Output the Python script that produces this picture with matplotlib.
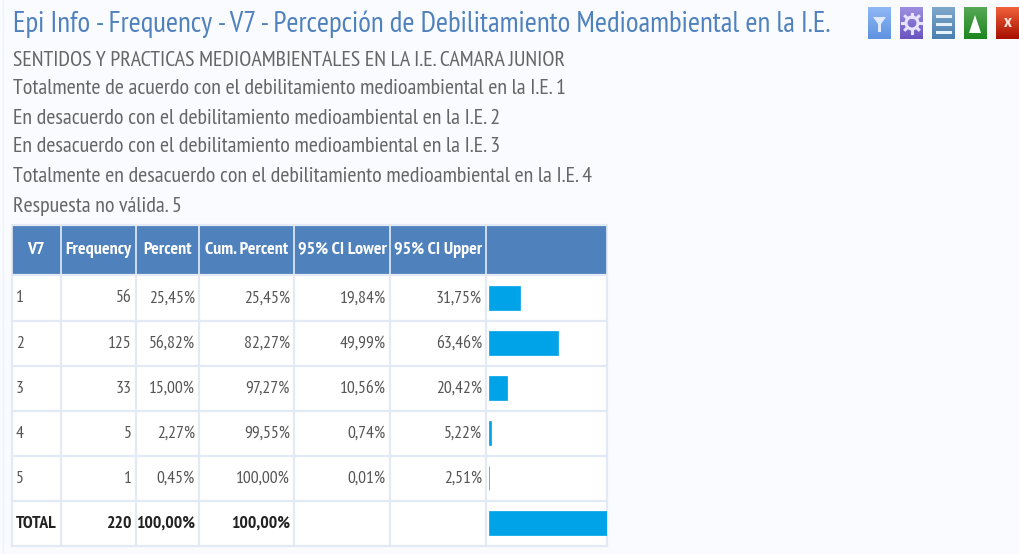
import numpy as np
import matplotlib
matplotlib.use('Agg')
import matplotlib.pyplot as plt
from matplotlib.patches import Rectangle, Polygon, Circle
from matplotlib.colors import LinearSegmentedColormap

title = "Epi Info - Frequency - V7 - Percepción de Debilitamiento Medioambiental en la I.E."
lines = [
    "SENTIDOS Y PRACTICAS MEDIOAMBIENTALES EN LA I.E. CAMARA JUNIOR",
    "Totalmente de acuerdo con el debilitamiento medioambiental en la I.E. 1",
    "En desacuerdo con el debilitamiento medioambiental en la I.E. 2",
    "En desacuerdo con el debilitamiento medioambiental en la I.E. 3",
    "Totalmente en desacuerdo con el debilitamiento medioambiental en la I.E. 4",
    "Respuesta no válida. 5",
]
headers = ["V7", "Frequency", "Percent", "Cum. Percent", "95% CI Lower", "95% CI Upper", ""]
v7 = ["1", "2", "3", "4", "5", "TOTAL"]
frequency = [56, 125, 33, 5, 1, 220]
percent = [25.45, 56.82, 15.00, 2.27, 0.45, 100.00]
cum_percent = [25.45, 82.27, 97.27, 99.55, 100.00, 100.00]
ci_lower = [19.84, 49.99, 10.56, 0.74, 0.01, None]
ci_upper = [31.75, 63.46, 20.42, 5.22, 2.51, None]

col_x = [12, 61, 136, 199, 294, 390, 486, 607]
row_y = [225, 275, 321, 366, 411, 456, 501, 546]

plt.rcParams['font.family'] = ['PT Sans Narrow', 'Liberation Sans', 'DejaVu Sans']

def pct(v):
    if v is None:
        return ""
    return f"{v:.2f}%".replace(".", ",")

fig = plt.figure(figsize=(10.19, 5.54), dpi=100, facecolor='#f9fbff')
ax = fig.add_axes([0, 0, 1, 1])
ax.set_xlim(0, 1019)
ax.set_ylim(554, 0)
ax.axis('off')

ax.text(13, 24, title, fontsize=20.85, color='#4f81bd', va='center')
for y, s in zip([61, 89, 118, 147, 177, 206], lines):
    ax.text(13, y, s, fontsize=15.8, color='#666666', va='center')

# table
border = '#e4eaf5'
ax.add_patch(Rectangle((col_x[0], row_y[0]), col_x[-1] - col_x[0], row_y[1] - row_y[0], fc='#4f81bd', ec='none'))
ax.add_patch(Rectangle((col_x[0], row_y[1]), col_x[-1] - col_x[0], row_y[-1] - row_y[1], fc='white', ec='none'))
for x in col_x:
    ax.plot([x, x], [row_y[1], row_y[-1]], color=border, lw=1.6)
    ax.plot([x, x], [row_y[0], row_y[1]], color='#e8eef8' if x not in (col_x[0], col_x[-1]) else border, lw=1.2)
for y in row_y:
    ax.plot([col_x[0], col_x[-1]], [y, y], color=border, lw=1.6)
ax.plot([3, 3], [0, 554], color='#eef2fa', lw=1)

for i, h in enumerate(headers):
    ax.text((col_x[i] + col_x[i + 1]) / 2, 249.5, h, fontsize=13, fontweight='bold',
            color='white', ha='center', va='center')

for r in range(6):
    yc = (row_y[r + 1] + row_y[r + 2]) / 2 + 0.5
    total = r == 5
    weight = 'bold' if total else 'normal'
    color = '#222222' if total else '#555555'
    vals = [str(frequency[r]), pct(percent[r]), pct(cum_percent[r]), pct(ci_lower[r]), pct(ci_upper[r])]
    ax.text(col_x[0] + 4, yc, v7[r], fontsize=12.7, color=color, fontweight=weight, va='center')
    for c, s in enumerate(vals):
        ax.text(col_x[c + 2] - 4, yc, s, fontsize=12.7, color=color, fontweight=weight, ha='right', va='center')

# bars in their own axes, 100% runs past the cell and gets clipped
bar_ax = fig.add_axes([488.5 / 1019, 1 - 546 / 554, (606.5 - 488.5) / 1019, (546 - 275) / 554])
bar_ax.set_xlim(0, 118 / 1.22)
bar_ax.set_ylim(5.5, -0.5)
bar_ax.barh(range(6), percent, height=24 / 45.2, color='#00a3e8', edgecolor='#00a3e8', linewidth=0.5)
bar_ax.axis('off')
bar_ax.patch.set_alpha(0)

# toolbar icons
icon_x = [868, 900, 932, 964, 996]
icon_cols = [('#8fb8f5', '#5f92e0'), ('#9d8fe0', '#6a55c0'), ('#7fa8cc', '#4a7fae'),
             ('#55a855', '#1f861f'), ('#f0603a', '#a81000')]
for x, (c1, c2) in zip(icon_x, icon_cols):
    cm = LinearSegmentedColormap.from_list('icon', [c1, c2])
    ax.imshow(np.linspace(0, 1, 32).reshape(-1, 1), cmap=cm, extent=(x, x + 23, 39, 7), aspect='auto', zorder=3)
ax.set_xlim(0, 1019)
ax.set_ylim(554, 0)

ax.add_patch(Polygon([(873, 17), (886, 17), (881, 24), (881, 32), (878, 32), (878, 24)], fc='#dfeaff', zorder=4))
ax.add_patch(Circle((912, 23), 6, fc='none', ec='#e8e4ff', lw=2.2, zorder=4))
for a in np.deg2rad(np.arange(0, 360, 45)):
    ax.plot([912 + 6.5 * np.cos(a), 912 + 9.5 * np.cos(a)], [23 + 6.5 * np.sin(a), 23 + 9.5 * np.sin(a)],
            color='#e8e4ff', lw=2.2, zorder=4)
for y in [16, 24, 32]:
    ax.add_patch(Rectangle((936, y - 1.5), 16, 3, fc='#e6f0f8', zorder=4))
ax.add_patch(Polygon([(969, 33), (981, 33), (975, 15)], fc='white', zorder=4))
ax.text(1007.5, 23, "x", fontsize=13, fontweight='bold', color='#ffe8e0', ha='center', va='center', zorder=4)

fig.savefig('out.png', dpi=100, facecolor=fig.get_facecolor())
